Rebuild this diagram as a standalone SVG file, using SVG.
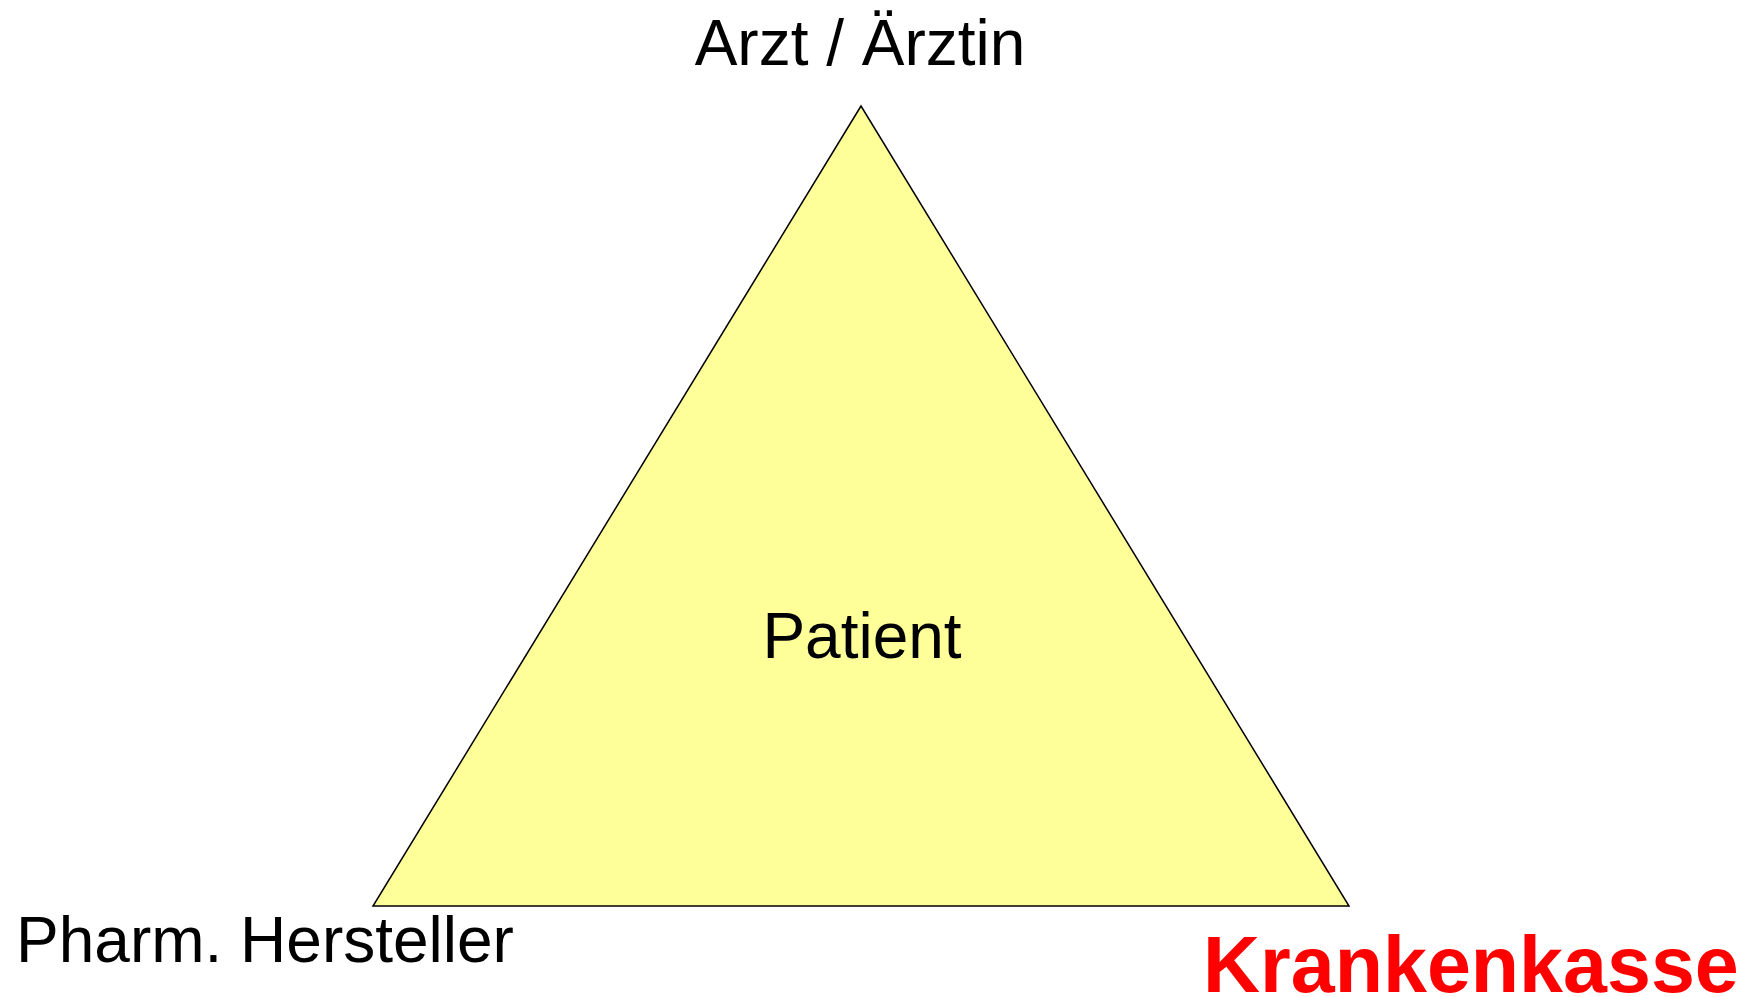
<svg xmlns="http://www.w3.org/2000/svg" width="1755" height="997" viewBox="0 0 1755 997">
<style>
.lbl{font-family:"Liberation Sans",Arial,sans-serif;font-size:64px;fill:#000}
.red{font-family:"Liberation Sans",Arial,sans-serif;font-size:79px;font-weight:bold;fill:#FF0000}
</style>
<rect width="1755" height="997" fill="#FFFFFF"/>
<g id="triangle">
<polygon points="861,106 373,906 1349,906" fill="#FFFF99" stroke="#000" stroke-width="1.5"/>
<text class="lbl" x="862" y="658" text-anchor="middle">Patient</text>
</g>
<g id="arzt"><text class="lbl" x="860" y="65" text-anchor="middle">Arzt / Ärztin</text></g>
<g id="hersteller"><text class="lbl" x="16" y="962">Pharm. Hersteller</text></g>
<g id="krankenkasse"><text class="red" x="1203" y="992">Krankenkasse</text></g>
<g id="connectors"></g>
</svg>
